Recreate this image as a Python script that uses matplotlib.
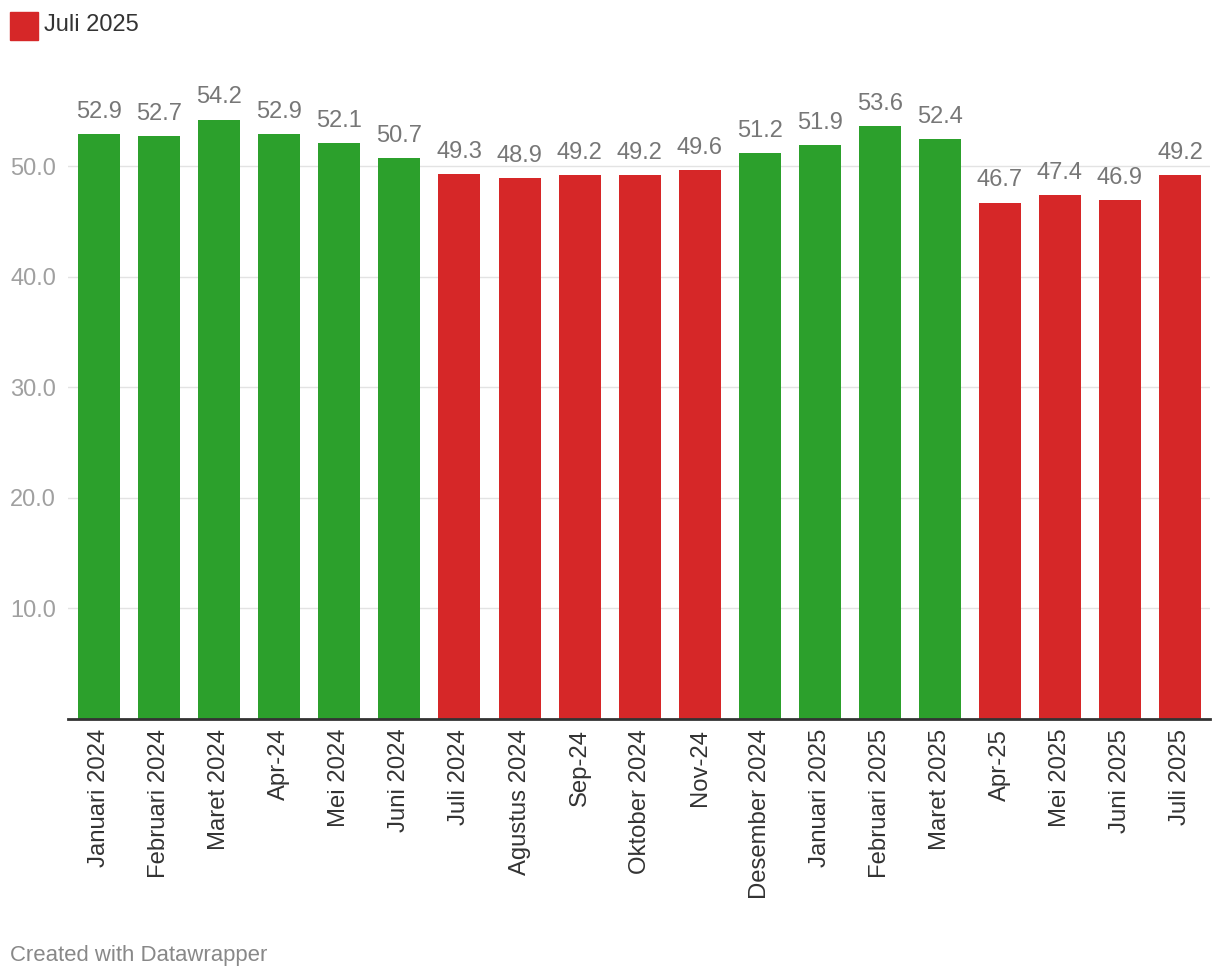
import matplotlib.pyplot as plt
from matplotlib.patches import Rectangle

plt.rcParams['font.family'] = ['Liberation Sans', 'DejaVu Sans']

# PMI values per month
months = ["Januari 2024", "Februari 2024", "Maret 2024", "Apr-24", "Mei 2024",
          "Juni 2024", "Juli 2024", "Agustus 2024", "Sep-24", "Oktober 2024",
          "Nov-24", "Desember 2024", "Januari 2025", "Februari 2025", "Maret 2025",
          "Apr-25", "Mei 2025", "Juni 2025", "Juli 2025"]
values = [52.9, 52.7, 54.2, 52.9, 52.1, 50.7, 49.3, 48.9, 49.2, 49.2,
          49.6, 51.2, 51.9, 53.6, 52.4, 46.7, 47.4, 46.9, 49.2]
yticks = [10, 20, 30, 40, 50]

green = '#2ca02c'
red = '#d62728'
colors = [green if v >= 50 else red for v in values]

fig = plt.figure(figsize=(12.2, 9.8), dpi=100)
ax = fig.add_axes([68 / 1220, 1 - 719 / 980, (1210 - 68) / 1220, (719 - 88.6) / 980])

x = list(range(len(values)))
bars = ax.bar(x, values, width=0.7, color=colors, zorder=2)

for xi, v in zip(x, values):
    ax.annotate(f"{v:.1f}", (xi, v), xytext=(0, 8), textcoords='offset points',
                ha='center', va='bottom', fontsize=17, color='#777777')

ax.set_xlim(-0.52, len(values) - 0.5)
ax.set_ylim(0, 57)
ax.set_yticks(yticks)
ax.set_yticklabels([f"{t:.1f}" for t in yticks], fontsize=17, color='#a0a0a0')
ax.yaxis.grid(True, color='#e3e3e3', linewidth=1, zorder=0)
ax.tick_params(axis='y', length=0, pad=8.5)

ax.set_xticks(x)
ax.set_xticklabels(months, rotation=90, fontsize=17.2, color='#333333', va='top', ha='center')
ax.tick_params(axis='x', length=0, pad=7)

for s in ['top', 'right', 'left']:
    ax.spines[s].set_visible(False)
ax.spines['bottom'].set_color('#333333')
ax.spines['bottom'].set_linewidth(2)
ax.spines['bottom'].set_zorder(3)

# legend
fig.add_artist(Rectangle((10 / 1220, 1 - 40 / 980), 28 / 1220, 28 / 980,
                         transform=fig.transFigure, color=red))
fig.text(44 / 1220, 1 - 25 / 980, "Juli 2025", fontsize=17, color='#333333',
         va='center', ha='left')

fig.text(10 / 1220, 1 - 955 / 980, "Created with Datawrapper", fontsize=15.9,
         color='#888888', va='center', ha='left')

fig.savefig('out.png', dpi=100)
